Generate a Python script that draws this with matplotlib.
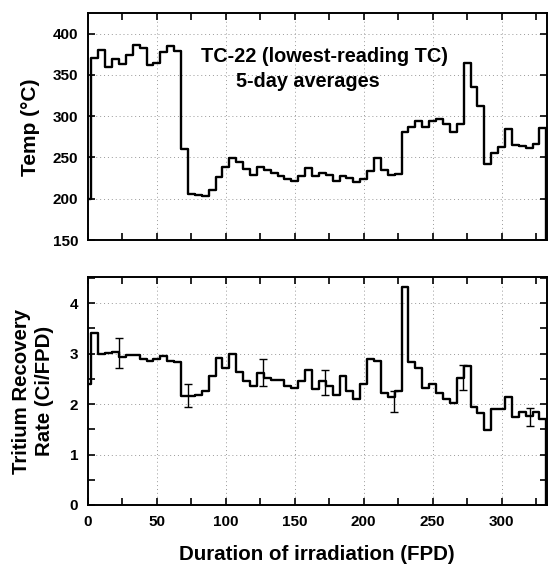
import matplotlib
matplotlib.use("Agg")
import matplotlib.pyplot as plt
from matplotlib.ticker import MultipleLocator

plt.rcParams['font.family'] = ['Liberation Sans', 'DejaVu Sans']
plt.rcParams['font.weight'] = 'bold'

# Inicio de cada media de 5 días (FPD)
bin_start = [2.5, 7.5, 12.5, 17.5, 22.5, 27.5, 32.5, 37.5, 42.5, 47.5,
             52.5, 57.5, 62.5, 67.5, 72.5, 77.5, 82.5, 87.5, 92.5, 97.5,
             102.5, 107.5, 112.5, 117.5, 122.5, 127.5, 132.5, 137.5, 142.5, 147.5,
             152.5, 157.5, 162.5, 167.5, 172.5, 177.5, 182.5, 187.5, 192.5, 197.5,
             202.5, 207.5, 212.5, 217.5, 222.5, 227.5, 232.5, 237.5, 242.5, 247.5,
             252.5, 257.5, 262.5, 267.5, 272.5, 277.5, 282.5, 287.5, 292.5, 297.5,
             302.5, 307.5, 312.5, 317.5, 322.5, 327.5]
fpd_end = 332

# Temperatura TC-22 (°C)
temp_first = 200
temp = [370, 380, 360, 369, 363, 374, 386, 383, 362, 364,
        378, 385, 379, 260, 206, 205, 203, 211, 226, 238,
        249, 245, 236, 229, 239, 235, 231, 228, 224, 222,
        228, 237, 227, 231, 229, 221, 228, 225, 220, 224,
        233, 249, 235, 229, 230, 281, 287, 294, 287, 294,
        296, 290, 281, 290, 364, 335, 312, 242, 255, 263,
        284, 265, 264, 262, 266, 286]
temp_last = 0

# Tasa de recuperación de tritio (Ci/FPD)
rate_first = 2.4
rate = [3.41, 3.00, 3.02, 3.03, 2.93, 2.98, 2.97, 2.90, 2.86, 2.89,
        2.95, 2.85, 2.83, 2.17, 2.16, 2.18, 2.26, 2.56, 2.91, 2.71,
        2.99, 2.63, 2.45, 2.36, 2.62, 2.52, 2.47, 2.47, 2.36, 2.31,
        2.45, 2.67, 2.29, 2.45, 2.35, 2.18, 2.56, 2.26, 2.10, 2.40,
        2.89, 2.86, 2.22, 2.15, 2.26, 4.32, 2.84, 2.71, 2.32, 2.40,
        2.23, 2.11, 2.03, 2.52, 2.75, 1.94, 1.83, 1.48, 1.91, 1.91,
        2.14, 1.74, 1.85, 1.76, 1.85, 1.70]
rate_last = 0

# Barras de error
err_x = [22.5, 72.5, 127, 172, 222, 272, 321]
err_y = [3.01, 2.17, 2.63, 2.43, 2.05, 2.52, 1.74]
err_size = [0.30, 0.23, 0.27, 0.24, 0.21, 0.25, 0.18]

x = [0] + bin_start + [fpd_end]
y_temp = [temp_first] + temp + [temp_last]
y_rate = [rate_first] + rate + [rate_last]

fig = plt.figure(figsize=(5.5, 5.66), dpi=100)
ax1 = fig.add_axes([88 / 550, 1 - 240 / 566, 459 / 550, 227 / 566])
ax2 = fig.add_axes([88 / 550, 1 - 505 / 566, 459 / 550, 228 / 566])

ax1.step(x, y_temp, where='post', color='black', lw=1.7)
ax2.step(x, y_rate, where='post', color='black', lw=1.7)
ax2.errorbar(err_x, err_y, yerr=err_size, fmt='none', ecolor='black',
             elinewidth=1.0, capsize=3, capthick=1.0)

for ax in (ax1, ax2):
    ax.set_xlim(0, 333)
    ax.xaxis.set_major_locator(MultipleLocator(50))
    ax.xaxis.set_minor_locator(MultipleLocator(25))
    ax.tick_params(which='both', direction='in', top=True, right=True,
                   length=5, width=1.2, labelsize=11, pad=7)
    ax.grid(True, which='major', linestyle=(0, (1, 3)), color='#999999', lw=0.7)
    ax.set_axisbelow(True)
    for s in ax.spines.values():
        s.set_linewidth(1.4)

ax1.set_ylim(150, 425)
ax1.yaxis.set_major_locator(MultipleLocator(50))
ax1.tick_params(axis='x', labelbottom=False)

ax2.set_ylim(0, 4.52)
ax2.yaxis.set_major_locator(MultipleLocator(1))
ax2.yaxis.set_minor_locator(MultipleLocator(0.5))

ax1.text(171.7, 372, "TC-22 (lowest-reading TC)", ha='center', va='center',
         fontsize=14.3, fontweight='bold')
ax1.text(159.4, 342, "5-day averages", ha='center', va='center',
         fontsize=14.3, fontweight='bold')

fig.text(31 / 550, 1 - 127 / 566, "Temp (°C)", rotation=90, ha='center',
         va='center', fontsize=15, fontweight='bold')
fig.text(33 / 550, 1 - 391 / 566, "Tritium Recovery\nRate (Ci/FPD)", rotation=90,
         ha='center', va='center', fontsize=14.7, fontweight='bold',
         multialignment='center', linespacing=1.2)
fig.text(317 / 550, 1 - 555 / 566, "Duration of irradiation (FPD)", ha='center',
         va='center', fontsize=14.8, fontweight='bold')

fig.savefig("out.png", dpi=100)
